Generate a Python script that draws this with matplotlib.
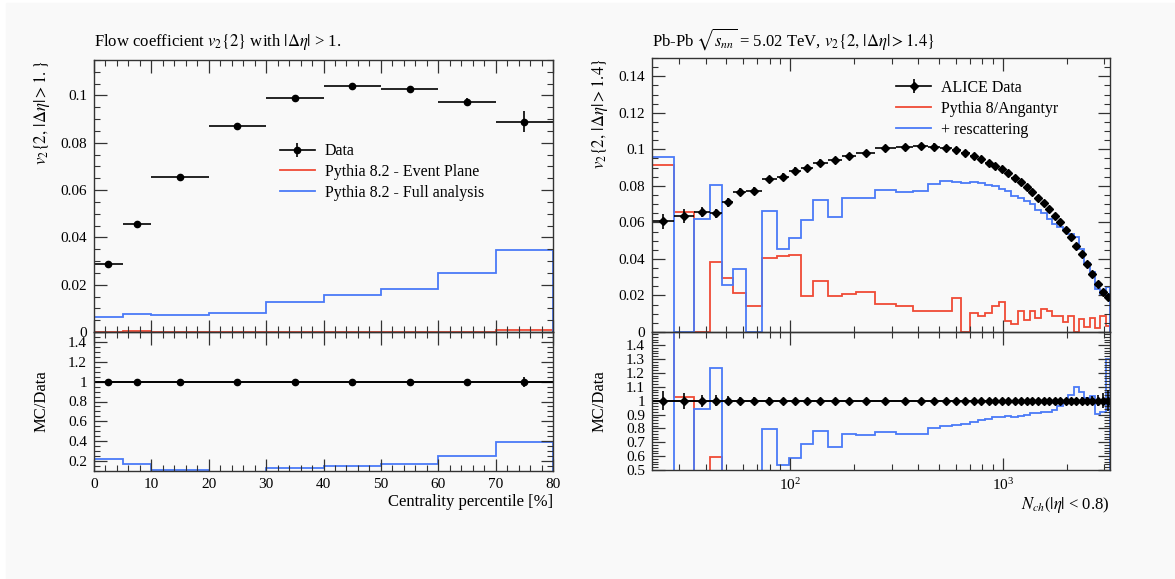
import numpy as np
import matplotlib.pyplot as plt
from matplotlib.ticker import MultipleLocator, FuncFormatter, NullFormatter, LogLocator
from matplotlib.lines import Line2D
from matplotlib.patches import Rectangle

plt.rcParams['font.family'] = ['Liberation Serif', 'DejaVu Serif']
plt.rcParams['mathtext.fontset'] = 'stix'

# left: v2{2} vs centrality
cent_edges = [0, 5, 10, 20, 30, 40, 50, 60, 70, 80]
cent_data = [0.0286, 0.0458, 0.0655, 0.0869, 0.0990, 0.1039, 0.1027, 0.0973, 0.0889]
cent_err = [0.0008, 0.0008, 0.0006, 0.0006, 0.0007, 0.0008, 0.0010, 0.0017, 0.0044]
cent_ep = [0.0002, 0.0006, 0.0002, 0.0002, 0.0002, 0.0002, 0.0001, 0.0002, 0.0007]
cent_full = [0.0063, 0.0076, 0.0070, 0.0082, 0.0127, 0.0155, 0.0180, 0.0249, 0.0346]

# right: v2{2} vs Nch
nch_edges = [22.4, 28.5, 35.2, 41.9, 48.0, 53.9, 62.2, 73.5, 86.8, 99.3, 112.4, 127.7,
             150.3, 175.4, 204.8, 251.4, 313.5, 380.4, 444.2, 508.6, 575.6, 636.6, 701.2,
             763.6, 825.0, 891.3, 955.6, 1028.5, 1098.5, 1177.6, 1258.0, 1338.4, 1423.9,
             1514.9, 1611.4, 1707.8, 1809.7, 1917.8, 2032.4, 2153.6, 2282.2, 2418.4,
             2562.8, 2716.4, 2879.0, 3051.0, 3196.0]
nch_data = [0.0605, 0.0636, 0.0658, 0.0651, 0.0709, 0.0767, 0.0773, 0.0836, 0.0851, 0.0882,
            0.0896, 0.0927, 0.0942, 0.0964, 0.0980, 0.1005, 0.1013, 0.1018, 0.1015, 0.1005,
            0.0996, 0.0982, 0.0964, 0.0945, 0.0927, 0.0909, 0.0891, 0.0869, 0.0845, 0.0822,
            0.0796, 0.0767, 0.0736, 0.0705, 0.0673, 0.0636, 0.0600, 0.0560, 0.0518, 0.0473,
            0.0427, 0.0373, 0.0318, 0.0264, 0.0218, 0.0190]
nch_err = [0.0042, 0.0037, 0.0029, 0.0025, 0.0024, 0.0022, 0.0021, 0.0020, 0.0019, 0.0019,
           0.0018, 0.0018, 0.0018, 0.0018, 0.0018, 0.0018, 0.0018, 0.0017, 0.0017, 0.0017,
           0.0016, 0.0016, 0.0016, 0.0015, 0.0015, 0.0015, 0.0014, 0.0014, 0.0014, 0.0013,
           0.0013, 0.0013, 0.0012, 0.0012, 0.0012, 0.0011, 0.0011, 0.0011, 0.0010, 0.0010,
           0.0010, 0.0010, 0.0010, 0.0011, 0.0012, 0.0014]
nch_ang = [0.0915, 0.0655, 0.0, 0.0385, 0.0295, 0.0215, 0.0145, 0.0405, 0.0415, 0.0420,
           0.0195, 0.0280, 0.0195, 0.0210, 0.0220, 0.0155, 0.0145, 0.0115, 0.0115, 0.0115,
           0.0185, 0.0, 0.0105, 0.0085, 0.0105, 0.0145, 0.0165, 0.0060, 0.0045, 0.0115,
           0.0065, 0.0115, 0.0075, 0.0125, 0.0115, 0.0085, 0.0085, 0.0055, 0.0090, 0.0,
           0.0070, 0.0030, 0.0075, 0.0020, 0.0090, 0.0035]
nch_resc = [0.0960, 0.0, 0.0620, 0.0805, 0.0260, 0.0345, 0.0, 0.0665, 0.0455, 0.0515,
            0.0615, 0.0725, 0.0630, 0.0735, 0.0735, 0.0775, 0.0767, 0.0773, 0.0812, 0.0824,
            0.0822, 0.0815, 0.0819, 0.0813, 0.0806, 0.0800, 0.0784, 0.0773, 0.0744, 0.0732,
            0.0716, 0.0698, 0.0670, 0.0649, 0.0619, 0.0591, 0.0576, 0.0560, 0.0539, 0.0520,
            0.0453, 0.0380, 0.0328, 0.0238, 0.0200, 0.0247]

RED = '#f04a35'
BLUE = '#4a7af7'
BG = '#f9f9f9'
W, H = 1175, 579

fig = plt.figure(figsize=(W / 100, H / 100), dpi=100, facecolor='white')
fig.patches.append(Rectangle((6 / W, 0), 1, 1 - 3 / H, transform=fig.transFigure,
                             color=BG, zorder=-10))

axL = fig.add_axes([94 / W, 1 - 332 / H, 459 / W, 272 / H])
axLr = fig.add_axes([94 / W, 1 - 471 / H, 459 / W, 139 / H], sharex=axL)
axR = fig.add_axes([652 / W, 1 - 332 / H, 458 / W, 274 / H])
axRr = fig.add_axes([652 / W, 1 - 470 / H, 458 / W, 138 / H], sharex=axR)

fmt = FuncFormatter(lambda v, _: f'{v:.3g}')
for ax in (axL, axLr, axR, axRr):
    ax.set_facecolor('none')
    for s in ax.spines.values():
        s.set_color('#333333')
        s.set_linewidth(1.0)
    ax.tick_params(which='both', direction='in', top=True, right=True,
                   color='#333333', labelsize=11, pad=5)
    ax.tick_params(which='major', length=9, width=0.9)
    ax.tick_params(which='minor', length=4.5, width=0.8)
    ax.yaxis.set_major_formatter(fmt)

ebkw = dict(color='k', ms=4.5, elinewidth=1.2, capsize=0, ls='none')

# ---- left top
c_edges = np.array(cent_edges, float)
c_mid = 0.5 * (c_edges[:-1] + c_edges[1:])
c_half = 0.5 * np.diff(c_edges)
axL.stairs(cent_ep, c_edges, color=RED, lw=1.3)
axL.stairs(cent_full, c_edges, color=BLUE, lw=1.3)
axL.errorbar(c_mid, cent_data, xerr=c_half, yerr=cent_err, fmt='o', **ebkw)
axL.set_xlim(0, 80)
axL.set_ylim(0, 0.115)
axL.xaxis.set_major_locator(MultipleLocator(10))
axL.xaxis.set_minor_locator(MultipleLocator(2))
axL.yaxis.set_major_locator(MultipleLocator(0.02))
axL.yaxis.set_minor_locator(MultipleLocator(0.005))
axL.tick_params(labelbottom=False)

h_data = (Line2D([], [], color='k', lw=1.2),
          Line2D([], [], color='k', marker='o', ms=4.5, ls='none'),
          Line2D([], [], color='k', marker='|', ms=10, mew=1.2, ls='none'))
axL.legend([h_data, Line2D([], [], color=RED, lw=1.3), Line2D([], [], color=BLUE, lw=1.3)],
           ['Data', 'Pythia 8.2 - Event Plane', 'Pythia 8.2 - Full analysis'],
           loc='upper left', bbox_to_anchor=(0.405, 0.694), frameon=False, fontsize=11.5,
           borderpad=0, borderaxespad=0, handlelength=2.2, handletextpad=0.6,
           labelspacing=0.3)

fig.text(94 / W, 1 - 46 / H, r'Flow coefficient $v_2\{2\}$ with $|\Delta\eta|$ > 1.',
         fontsize=12, va='baseline', ha='left')
axL.text(-52 / 459, 1, r'$v_2\{2,\,|\Delta\eta| > 1.\}$', transform=axL.transAxes,
         rotation=90, rotation_mode='anchor', ha='right', va='center', fontsize=12)

# ---- left ratio
axLr.axhline(1, color='k', lw=1.2)
axLr.stairs(np.array(cent_ep) / np.array(cent_data), c_edges, color=RED, lw=1.3)
axLr.stairs(np.array(cent_full) / np.array(cent_data), c_edges, color=BLUE, lw=1.3)
axLr.errorbar(c_mid, np.ones(len(c_mid)), xerr=c_half,
              yerr=np.array(cent_err) / np.array(cent_data), fmt='o', **ebkw)
axLr.set_ylim(0.1, 1.5)
axLr.yaxis.set_major_locator(MultipleLocator(0.2))
axLr.yaxis.set_minor_locator(MultipleLocator(0.05))
axLr.text(-52 / 459, 0.5, 'MC/Data', transform=axLr.transAxes, rotation=90,
          rotation_mode='anchor', ha='center', va='center', fontsize=12)
axLr.text(1, -0.223, 'Centrality percentile [%]', transform=axLr.transAxes,
          ha='right', va='center', fontsize=12)

# ---- right top
n_edges = np.array(nch_edges)
n_mid = np.sqrt(n_edges[:-1] * n_edges[1:])
n_xerr = [n_mid - n_edges[:-1], n_edges[1:] - n_mid]
axR.set_xscale('log')
axR.stairs(nch_ang, n_edges, color=RED, lw=1.3)
axR.stairs(nch_resc, n_edges, color=BLUE, lw=1.3)
axR.errorbar(n_mid, nch_data, xerr=n_xerr, yerr=nch_err, fmt='D', **dict(ebkw, ms=4))
axR.set_xlim(n_edges[0], n_edges[-1])
axR.set_ylim(0, 0.15)
axR.yaxis.set_major_locator(MultipleLocator(0.02))
axR.yaxis.set_minor_locator(MultipleLocator(0.005))
axR.xaxis.set_major_locator(LogLocator(base=10))
axR.xaxis.set_minor_locator(LogLocator(base=10, subs=np.arange(2, 10)))
axR.xaxis.set_minor_formatter(NullFormatter())
axR.tick_params(labelbottom=False)

h_alice = (Line2D([], [], color='k', lw=1.2),
           Line2D([], [], color='k', marker='D', ms=4, ls='none'),
           Line2D([], [], color='k', marker='|', ms=10, mew=1.2, ls='none'))
axR.legend([h_alice, Line2D([], [], color=RED, lw=1.3), Line2D([], [], color=BLUE, lw=1.3)],
           ['ALICE Data', 'Pythia 8/Angantyr', '+ rescattering'],
           loc='upper left', bbox_to_anchor=(0.533, 0.920), frameon=False, fontsize=11.5,
           borderpad=0, borderaxespad=0, handlelength=2.2, handletextpad=0.6,
           labelspacing=0.3)

fig.text(652 / W, 1 - 46 / H,
         r'Pb-Pb $\sqrt{s_{nn}}$ = 5.02 TeV, $v_2\{2,\,|\Delta\eta| > 1.4\}$',
         fontsize=12, va='baseline', ha='left')
axR.text(-52 / 458, 1, r'$v_2\{2,\,|\Delta\eta| > 1.4\}$', transform=axR.transAxes,
         rotation=90, rotation_mode='anchor', ha='right', va='center', fontsize=12)

# ---- right ratio
axRr.axhline(1, color='k', lw=1.2)
axRr.stairs(np.array(nch_ang) / np.array(nch_data), n_edges, color=RED, lw=1.3)
axRr.stairs(np.array(nch_resc) / np.array(nch_data), n_edges, color=BLUE, lw=1.3)
axRr.errorbar(n_mid, np.ones(len(n_mid)), xerr=n_xerr,
              yerr=np.array(nch_err) / np.array(nch_data), fmt='D', **dict(ebkw, ms=4))
axRr.set_ylim(0.5, 1.495)
axRr.yaxis.set_major_locator(MultipleLocator(0.1))
axRr.yaxis.set_minor_locator(MultipleLocator(0.02))
axRr.xaxis.set_minor_formatter(NullFormatter())
axRr.text(-52 / 458, 0.5, 'MC/Data', transform=axRr.transAxes, rotation=90,
          rotation_mode='anchor', ha='center', va='center', fontsize=12)
axRr.text(1, -0.254, r'$N_{ch}(|\eta|$ < 0.8)', transform=axRr.transAxes,
          ha='right', va='center', fontsize=12)

fig.savefig('out.png', dpi=100, facecolor=fig.get_facecolor())
